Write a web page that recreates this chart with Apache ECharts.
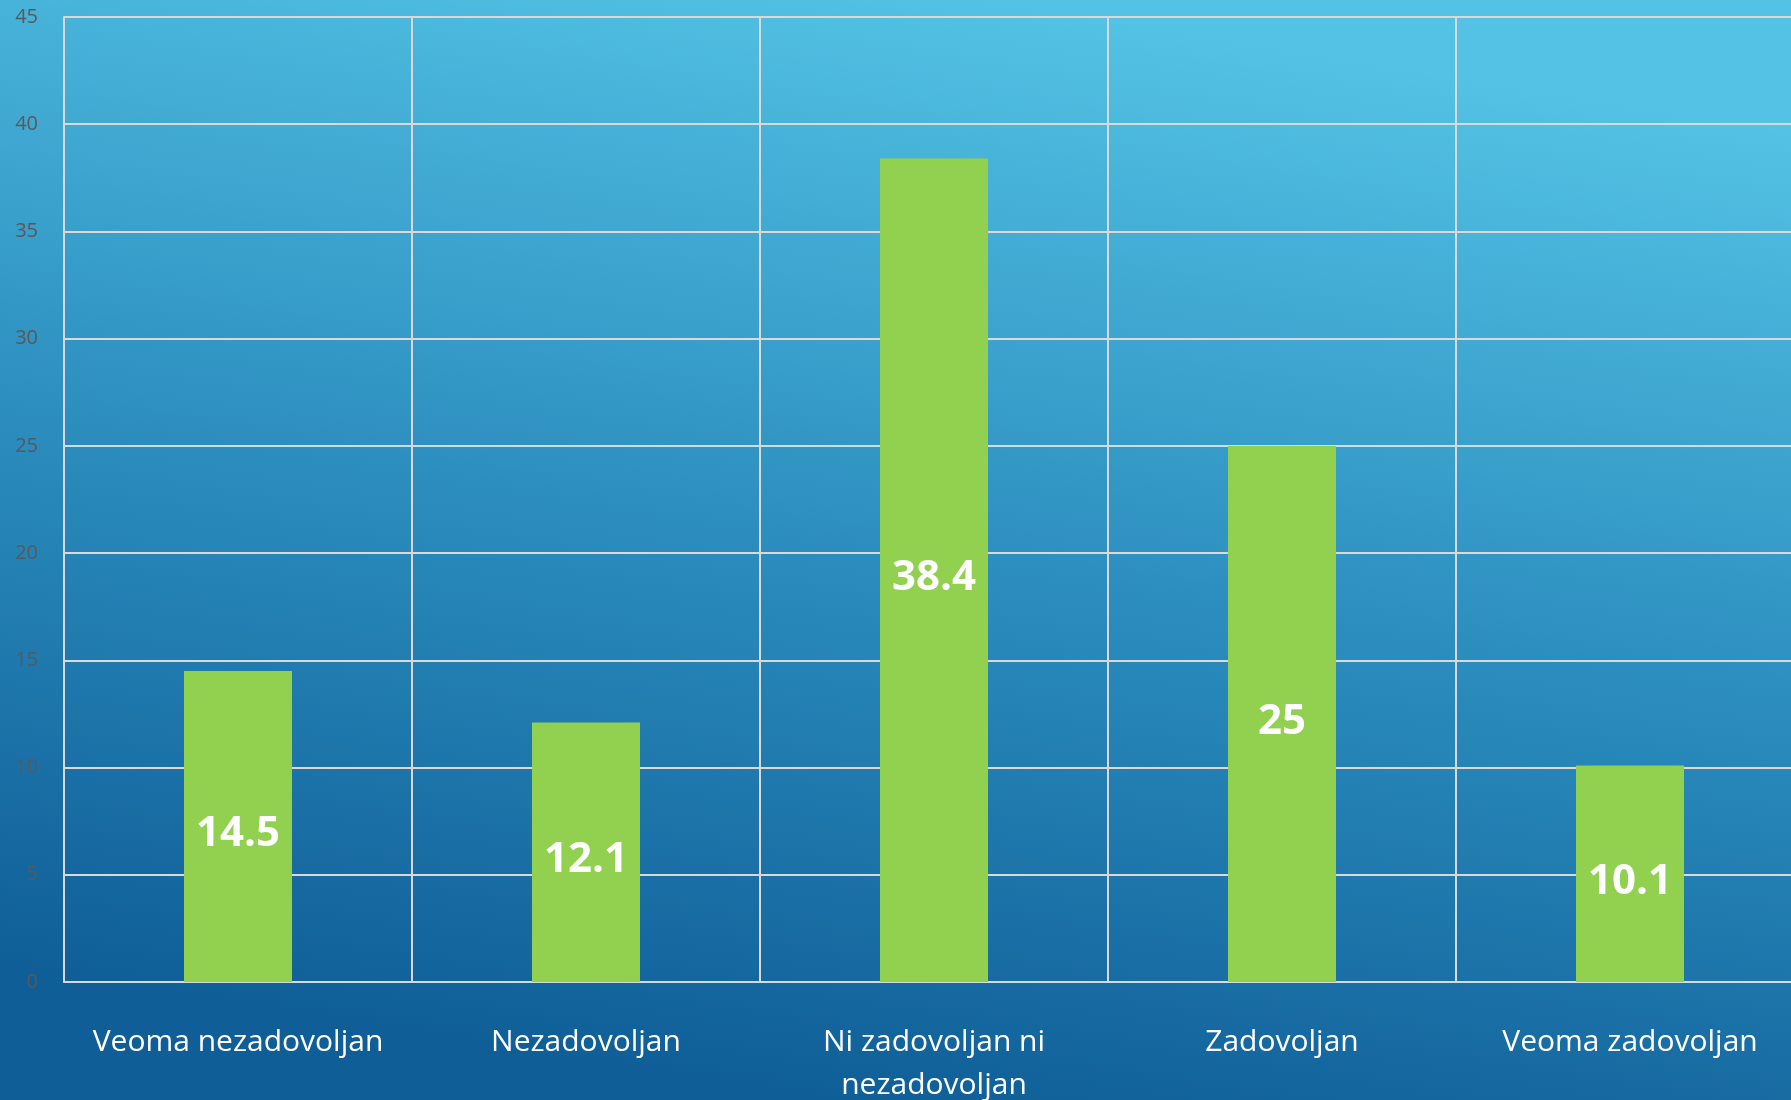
<!DOCTYPE html>
<html>
<head>
<meta charset="utf-8">
<script src="https://cdn.jsdelivr.net/npm/echarts@6/dist/echarts.min.js"></script>
<style>
html,body{margin:0;padding:0;width:1791px;height:1100px;overflow:hidden;}
#chart{width:1791px;height:1100px;}
</style>
</head>
<body>
<div id="chart"></div>
<script>
var categories = ['Veoma nezadovoljan', 'Nezadovoljan', 'Ni zadovoljan ni\nnezadovoljan', 'Zadovoljan', 'Veoma zadovoljan'];
var values = [14.5, 12.1, 38.4, 25, 10.1];
var yMin = 0, yMax = 45, yStep = 5;

var chart = echarts.init(document.getElementById('chart'));
chart.setOption({
  animation: false,
  backgroundColor: new echarts.graphic.LinearGradient(0.45, 1, 0.55, 0, [
    {offset: 0, color: '#0F5E97'},
    {offset: 0.5, color: '#2C8EBF'},
    {offset: 1, color: '#53C2E4'}
  ]),
  grid: {left: 64, top: 17, width: 1740, height: 965, containLabel: false, outerBoundsMode: 'none'},
  xAxis: {
    type: 'category',
    data: categories,
    axisLine: {show: true, lineStyle: {color: '#D9D9D9', width: 2}},
    axisTick: {show: false},
    splitLine: {show: true, lineStyle: {color: '#D9D9D9', width: 2}},
    axisLabel: {
      color: '#FFFFFF', fontSize: 30, fontFamily: 'Open Sans',
      margin: 39, lineHeight: 43, interval: 0
    }
  },
  yAxis: {
    type: 'value', min: yMin, max: yMax, interval: yStep,
    axisLine: {show: true, lineStyle: {color: '#D9D9D9', width: 2}},
    axisTick: {show: false},
    splitLine: {show: true, lineStyle: {color: '#D9D9D9', width: 2}},
    axisLabel: {color: '#595959', fontSize: 20, fontFamily: 'Open Sans', margin: 26, padding: [4, 0, 0, 0]}
  },
  series: [{
    type: 'bar',
    data: values,
    barWidth: 108,
    itemStyle: {color: '#92D050'},
    label: {
      show: true, position: 'inside', offset: [0, 8], color: '#FFFFFF',
      fontSize: 42, fontWeight: 'bold', fontFamily: 'Open Sans'
    }
  }]
});
</script>
</body>
</html>
